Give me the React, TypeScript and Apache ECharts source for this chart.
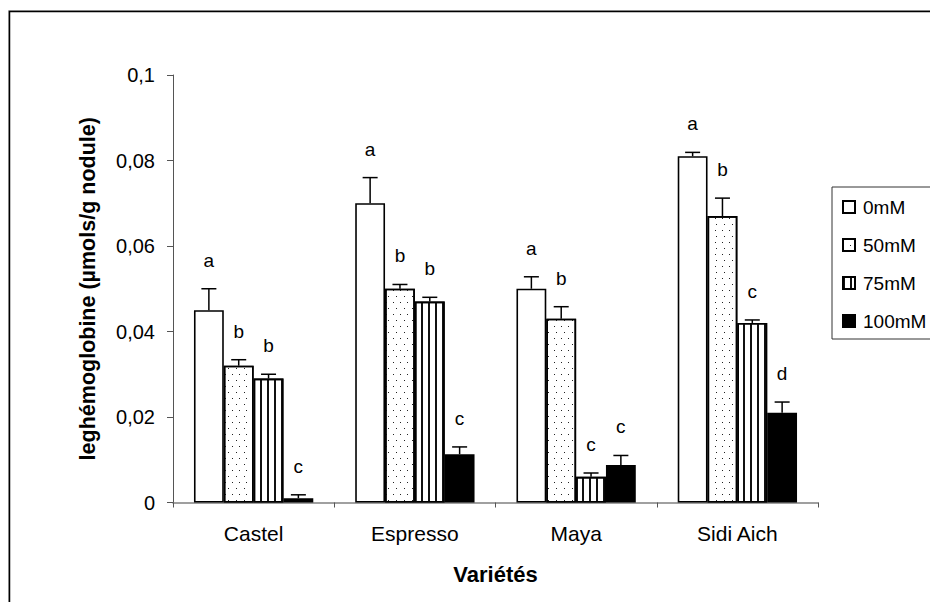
import React, { useEffect, useRef } from "react";
import * as echarts from "echarts";

// Varieties on the x axis and salt treatments as series
const categories = ["Castel", "Espresso", "Maya", "Sidi Aich"];
const treatments = ["0mM", "50mM", "75mM", "100mM"];

// Leghemoglobin content (µmol/g nodule), one array per treatment
const lhb0 = [0.045, 0.07, 0.05, 0.081];
const lhb50 = [0.032, 0.05, 0.043, 0.067];
const lhb75 = [0.029, 0.047, 0.006, 0.042];
const lhb100 = [0.001, 0.0113, 0.0088, 0.021];

// Standard errors (upper whiskers only)
const err0 = [0.005, 0.006, 0.0028, 0.0009];
const err50 = [0.0014, 0.001, 0.0028, 0.0042];
const err75 = [0.001, 0.001, 0.0009, 0.0007];
const err100 = [0.0008, 0.0017, 0.0022, 0.0025];

// Significance letters
const letters0 = ["a", "a", "a", "a"];
const letters50 = ["b", "b", "b", "b"];
const letters75 = ["b", "b", "c", "c"];
const letters100 = ["c", "c", "c", "d"];

// Y axis ticks
const yMin = 0;
const yMax = 0.1;
const yStep = 0.02;

const FONT = "'Liberation Sans', Arial, sans-serif";
const BAR_CATEGORY_GAP = 0.26;

export default function App() {
  const ref = useRef<HTMLDivElement>(null);

  useEffect(() => {
    if (!ref.current) return;
    const chart = echarts.init(ref.current, null, { renderer: "svg" });

    const means = [lhb0, lhb50, lhb75, lhb100];
    const errs = [err0, err50, err75, err100];
    const letters = [letters0, letters50, letters75, letters100];

    const errData: number[][] = [];
    const errLetters: string[] = [];
    means.forEach((arr, k) => {
      arr.forEach((v, c) => {
        errData.push([c, v, errs[k][c], k]);
        errLetters.push(letters[k][c]);
      });
    });

    const barStyles = [
      { color: "#ffffff" },
      {
        color: "#ffffff",
        decal: {
          symbol: "rect",
          symbolSize: 1,
          color: "#222222",
          dashArrayX: [
            [1, 6],
            [0, 3.5, 1, 2.5],
          ],
          dashArrayY: [1, 5],
        },
      },
      {
        color: "#ffffff",
        decal: {
          symbol: "rect",
          symbolSize: 1,
          color: "#111111",
          dashArrayX: [2, 5],
          dashArrayY: [4, 0],
        },
      },
      { color: "#000000" },
    ];

    const barSeries = treatments.map((name, k) => ({
      name,
      type: "bar",
      data: means[k],
      barGap: "0%",
      barCategoryGap: BAR_CATEGORY_GAP * 100 + "%",
      itemStyle: {
        ...barStyles[k],
        borderColor: "#000000",
        borderWidth: 1.6,
      },
      emphasis: { disabled: true },
      z: 2,
    }));

    chart.setOption({
      animation: false,
      backgroundColor: "#ffffff",
      textStyle: { fontFamily: FONT },
      grid: { left: 165, top: 67, width: 645, height: 427.5 },
      legend: {
        data: treatments,
        orient: "vertical",
        left: 824,
        top: 179,
        padding: [10, 40, 8, 10],
        itemGap: 18,
        itemWidth: 12,
        itemHeight: 12,
        borderColor: "#333333",
        borderWidth: 1,
        icon: "rect",
        textStyle: {
          fontFamily: FONT,
          fontSize: 19,
          lineHeight: 20,
          color: "#000000",
          padding: [0, 0, 0, 3],
        },
      },
      xAxis: {
        type: "category",
        data: categories,
        name: "Variétés",
        nameLocation: "middle",
        nameGap: 61,
        nameTextStyle: {
          fontFamily: FONT,
          fontSize: 22,
          fontWeight: "bold",
          color: "#000000",
        },
        axisLine: { lineStyle: { color: "#808080", width: 1.5 } },
        axisTick: { show: true, length: 5, lineStyle: { color: "#555555" } },
        axisLabel: {
          fontFamily: FONT,
          fontSize: 21,
          color: "#000000",
          margin: 20,
        },
      },
      yAxis: {
        type: "value",
        min: yMin,
        max: yMax,
        interval: yStep,
        name: "leghémoglobine (µmols/g nodule)",
        nameLocation: "middle",
        nameGap: 74,
        nameRotate: 90,
        nameTextStyle: {
          fontFamily: FONT,
          fontSize: 21.5,
          fontWeight: "bold",
          color: "#000000",
        },
        splitLine: { show: false },
        axisLine: { show: true, lineStyle: { color: "#555555", width: 1 } },
        axisTick: { show: true, length: 6, lineStyle: { color: "#555555" } },
        axisLabel: {
          fontFamily: FONT,
          fontSize: 20,
          color: "#000000",
          margin: 18,
          formatter: (v: number) => String(v).replace(".", ","),
        },
      },
      graphic: [
        {
          type: "rect",
          shape: { x: 0.5, y: 2.5, width: 2000, height: 2000 },
          style: { fill: "none", stroke: "#b0b0b0", lineWidth: 1 },
          silent: true,
        },
        {
          type: "rect",
          shape: { x: 1.5, y: 3.5, width: 2000, height: 2000 },
          style: { fill: "none", stroke: "#000000", lineWidth: 1.5 },
          silent: true,
        },
      ],
      series: [
        ...barSeries,
        {
          type: "custom",
          name: "errors",
          coordinateSystem: "cartesian2d",
          encode: { x: 0, y: 1 },
          data: errData,
          z: 5,
          silent: true,
          renderItem: (params: any, api: any) => {
            const c = api.value(0);
            const mean = api.value(1);
            const err = api.value(2);
            const k = api.value(3);
            const band = api.size([1, 0])[0];
            const bw = (band * (1 - BAR_CATEGORY_GAP)) / 4;
            const base = api.coord([c, mean]);
            const cx = base[0] + (k - 1.5) * bw;
            const yMean = base[1];
            const yTop = api.coord([c, mean + err])[1];
            const cap = 7.5;
            const stroke = { stroke: "#000000", lineWidth: 1.5 };
            return {
              type: "group",
              children: [
                {
                  type: "line",
                  shape: { x1: cx, y1: yMean, x2: cx, y2: yTop },
                  style: stroke,
                },
                {
                  type: "line",
                  shape: { x1: cx - cap, y1: yTop, x2: cx + cap, y2: yTop },
                  style: stroke,
                },
                {
                  type: "text",
                  style: {
                    text: errLetters[params.dataIndex],
                    x: cx,
                    y: yTop - 19,
                    align: "center",
                    verticalAlign: "bottom",
                    fontFamily: FONT,
                    fontSize: 19,
                    fill: "#000000",
                  },
                },
              ],
            };
          },
        },
      ],
    });

    return () => chart.dispose();
  }, []);

  return (
    <div
      style={{
        position: "fixed",
        left: 8,
        top: 8,
        width: 922,
        height: 594,
        overflow: "hidden",
        background: "#ffffff",
      }}
    >
      <div ref={ref} style={{ width: 960, height: 620 }} />
    </div>
  );
}
